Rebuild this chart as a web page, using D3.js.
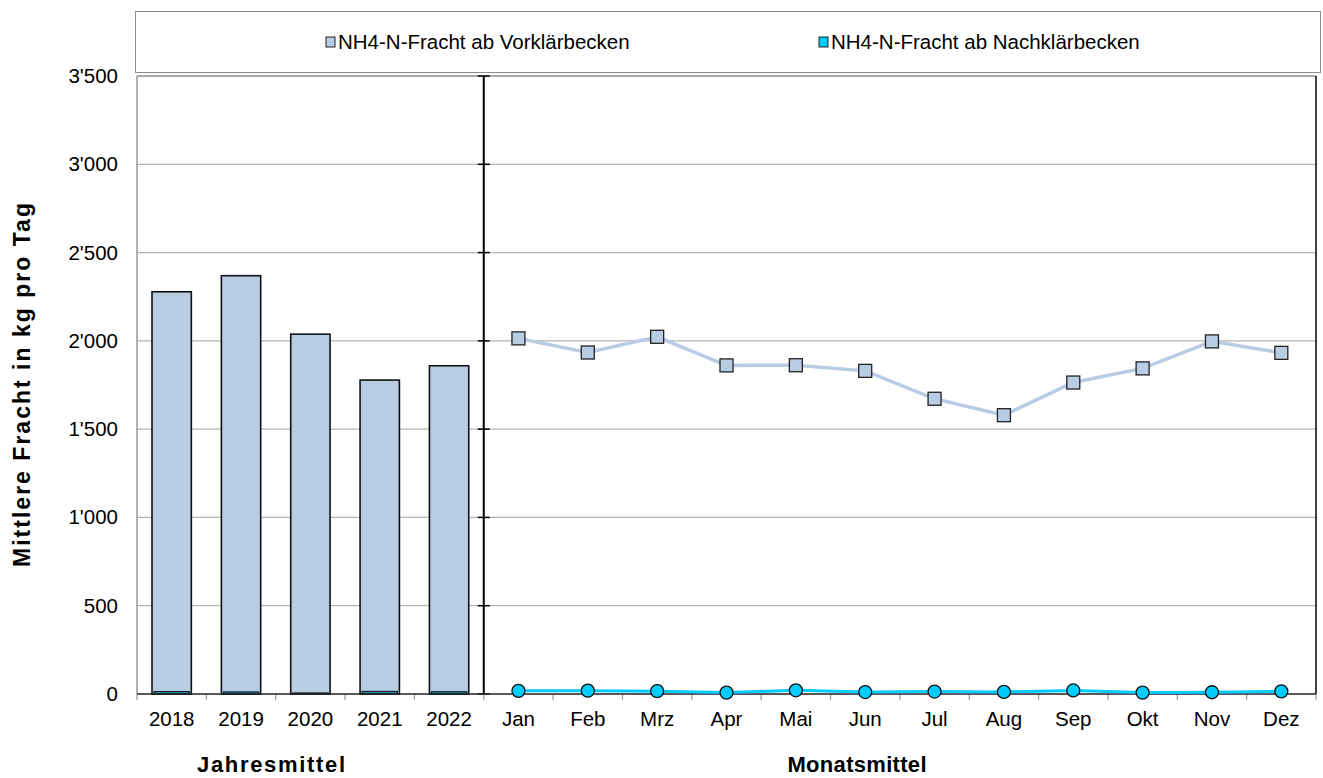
<!DOCTYPE html>
<html>
<head>
<meta charset="utf-8">
<script src="https://cdn.jsdelivr.net/npm/d3@7"></script>
<style>
  body { margin: 0; background: #fff; }
  svg { font-family: "Liberation Sans", Arial, sans-serif; }
</style>
</head>
<body>
<svg id="chart"></svg>
<script>
// annual means (left panel) and monthly means (right panel)
const years = ['2018', '2019', '2020', '2021', '2022'];
const vorYear = [2278, 2369, 2038, 1778, 1859];
const nachYear = [14, 12, 6, 15, 13];

const months = ['Jan', 'Feb', 'Mrz', 'Apr', 'Mai', 'Jun', 'Jul', 'Aug', 'Sep', 'Okt', 'Nov', 'Dez'];
const vorMonth = [2014, 1934, 2023, 1861, 1862, 1830, 1672, 1579, 1764, 1844, 1997, 1932];
const nachMonth = [18, 19, 16, 8, 21, 11, 14, 12, 20, 8, 10, 15];

const yTicks = [0, 500, 1000, 1500, 2000, 2500, 3000, 3500];
const seriesNames = ['NH4-N-Fracht ab Vorklärbecken', 'NH4-N-Fracht ab Nachklärbecken'];

const colVor = '#b8cce4';
const colNach = '#00ccff';

const width = 1323, height = 778;
const margin = {top: 76, right: 7, bottom: 84, left: 137};
const fontSize = 20.5;

const svg = d3.select('#chart')
    .attr('width', width)
    .attr('height', height);

// scales
const xScale = d3.scaleBand()
    .domain([...years, ...months])
    .range([margin.left, width - margin.right]);

const yScale = d3.scaleLinear()
    .domain([0, 3500])
    .range([height - margin.bottom, margin.top]);

const bw = xScale.bandwidth();
const cx = d => xScale(d) + bw / 2;
const fmt = v => d3.format(',')(v).replace(/,/g, "'");

// legend frame
svg.append('rect')
    .attr('x', 135.5).attr('y', 11.5)
    .attr('width', 1185).attr('height', 61)
    .attr('fill', '#fff').attr('stroke', '#8c8c8c');

const legendItems = [
    {name: seriesNames[0], color: colVor, x: 326},
    {name: seriesNames[1], color: colNach, x: 819}
];
const lg = svg.append('g').selectAll('g')
    .data(legendItems)
    .join('g')
    .attr('transform', d => `translate(${d.x},42)`);
lg.append('rect')
    .attr('x', 0).attr('y', -5).attr('width', 9).attr('height', 10)
    .attr('fill', d => d.color).attr('stroke', '#222').attr('stroke-width', 1);
lg.append('text')
    .attr('x', 12).attr('y', 0).attr('dy', '0.35em')
    .attr('font-size', fontSize)
    .text(d => d.name);

// gridlines
svg.append('g')
    .selectAll('line')
    .data(yTicks.filter(t => t > 0))
    .join('line')
    .attr('x1', margin.left).attr('x2', width - margin.right)
    .attr('y1', d => yScale(d)).attr('y2', d => yScale(d))
    .attr('stroke', '#b4b4b4').attr('stroke-width', 1.2);

// plot frame: grey top / left, black right
svg.append('line')
    .attr('x1', margin.left).attr('x2', width - margin.right)
    .attr('y1', margin.top).attr('y2', margin.top)
    .attr('stroke', '#999').attr('stroke-width', 1.5);
svg.append('line')
    .attr('x1', margin.left).attr('x2', margin.left)
    .attr('y1', margin.top).attr('y2', yScale(0))
    .attr('stroke', '#999').attr('stroke-width', 1.5);
svg.append('line')
    .attr('x1', width - margin.right).attr('x2', width - margin.right)
    .attr('y1', margin.top).attr('y2', yScale(0))
    .attr('stroke', '#000').attr('stroke-width', 1.5);

// y axis labels
const yAxis = d3.axisLeft(yScale)
    .tickValues(yTicks)
    .tickFormat(fmt)
    .tickSize(0)
    .tickPadding(19);
svg.append('g')
    .attr('transform', `translate(${margin.left},0)`)
    .call(yAxis)
    .call(g => g.select('.domain').remove())
    .call(g => g.selectAll('text').attr('font-size', fontSize).attr('fill', '#000')
        .attr('font-family', '"Liberation Sans", Arial, sans-serif'));

// divider between annual and monthly panels
const divX = xScale(months[0]);
svg.append('line')
    .attr('x1', divX).attr('x2', divX)
    .attr('y1', margin.top).attr('y2', yScale(0))
    .attr('stroke', '#000').attr('stroke-width', 2);
svg.append('g')
    .selectAll('line')
    .data(yTicks)
    .join('line')
    .attr('x1', divX - 6).attr('x2', divX + 6)
    .attr('y1', d => yScale(d)).attr('y2', d => yScale(d))
    .attr('stroke', '#000').attr('stroke-width', 1.5);

// x axis
const xAxis = d3.axisBottom(xScale)
    .tickSize(0)
    .tickPadding(17);
svg.append('g')
    .attr('transform', `translate(0,${yScale(0)})`)
    .call(xAxis)
    .call(g => g.select('.domain').remove())
    .call(g => g.selectAll('text').attr('font-size', fontSize).attr('fill', '#000')
        .attr('font-family', '"Liberation Sans", Arial, sans-serif'));

// category boundary ticks
svg.append('g')
    .selectAll('line')
    .data(xScale.domain().concat(['end']))
    .join('line')
    .attr('x1', d => d === 'end' ? xScale.range()[1] : xScale(d))
    .attr('x2', d => d === 'end' ? xScale.range()[1] : xScale(d))
    .attr('y1', yScale(0)).attr('y2', yScale(0) + 6)
    .attr('stroke', '#999').attr('stroke-width', 1.2);

// annual bars
const barW = bw * 0.567;
const yearData = years.map((y, i) => ({year: y, vor: vorYear[i], nach: nachYear[i]}));
svg.append('g')
    .selectAll('rect')
    .data(yearData)
    .join('rect')
    .attr('x', d => cx(d.year) - barW / 2)
    .attr('width', barW)
    .attr('y', d => yScale(d.vor))
    .attr('height', d => yScale(0) - yScale(d.vor))
    .attr('fill', colVor)
    .attr('stroke', '#111').attr('stroke-width', 1.6);
svg.append('g')
    .selectAll('rect')
    .data(yearData)
    .join('rect')
    .attr('x', d => cx(d.year) - barW / 2 + 2)
    .attr('width', barW - 4)
    .attr('y', d => yScale(d.nach))
    .attr('height', d => yScale(0) - yScale(d.nach))
    .attr('fill', '#1a8cb0')
    .attr('stroke', '#111').attr('stroke-width', 1);

// x axis base line
svg.append('line')
    .attr('x1', margin.left).attr('x2', width - margin.right)
    .attr('y1', yScale(0)).attr('y2', yScale(0))
    .attr('stroke', '#222').attr('stroke-width', 1.5);

// monthly lines
const line = d3.line()
    .x(d => cx(d.m))
    .y(d => yScale(d.v));

const vorData = months.map((m, i) => ({m, v: vorMonth[i]}));
const nachData = months.map((m, i) => ({m, v: nachMonth[i]}));

svg.append('path')
    .datum(vorData)
    .attr('d', line)
    .attr('fill', 'none')
    .attr('stroke', colVor).attr('stroke-width', 3.5);
svg.append('g')
    .selectAll('rect')
    .data(vorData)
    .join('rect')
    .attr('x', d => cx(d.m) - 6.5).attr('y', d => yScale(d.v) - 6.5)
    .attr('width', 13).attr('height', 13)
    .attr('fill', colVor)
    .attr('stroke', '#222').attr('stroke-width', 1.3);

svg.append('path')
    .datum(nachData)
    .attr('d', line)
    .attr('fill', 'none')
    .attr('stroke', colNach).attr('stroke-width', 3);
svg.append('g')
    .selectAll('circle')
    .data(nachData)
    .join('circle')
    .attr('cx', d => cx(d.m)).attr('cy', d => yScale(d.v))
    .attr('r', 6.5)
    .attr('fill', colNach)
    .attr('stroke', '#111').attr('stroke-width', 1.3);

// titles
svg.append('text')
    .attr('transform', 'translate(22,385) rotate(-90)')
    .attr('text-anchor', 'middle').attr('dy', '0.35em')
    .attr('font-size', 23).attr('font-weight', 'bold')
    .attr('textLength', 364).attr('lengthAdjust', 'spacing')
    .text('Mittlere Fracht in kg pro Tag');
svg.append('text')
    .attr('x', 271).attr('y', 772)
    .attr('text-anchor', 'middle')
    .attr('font-size', 22).attr('font-weight', 'bold')
    .attr('textLength', 148).attr('lengthAdjust', 'spacing')
    .text('Jahresmittel');
svg.append('text')
    .attr('x', 857).attr('y', 772)
    .attr('text-anchor', 'middle')
    .attr('font-size', 22).attr('font-weight', 'bold')
    .attr('textLength', 139).attr('lengthAdjust', 'spacing')
    .text('Monatsmittel');
</script>
</body>
</html>
